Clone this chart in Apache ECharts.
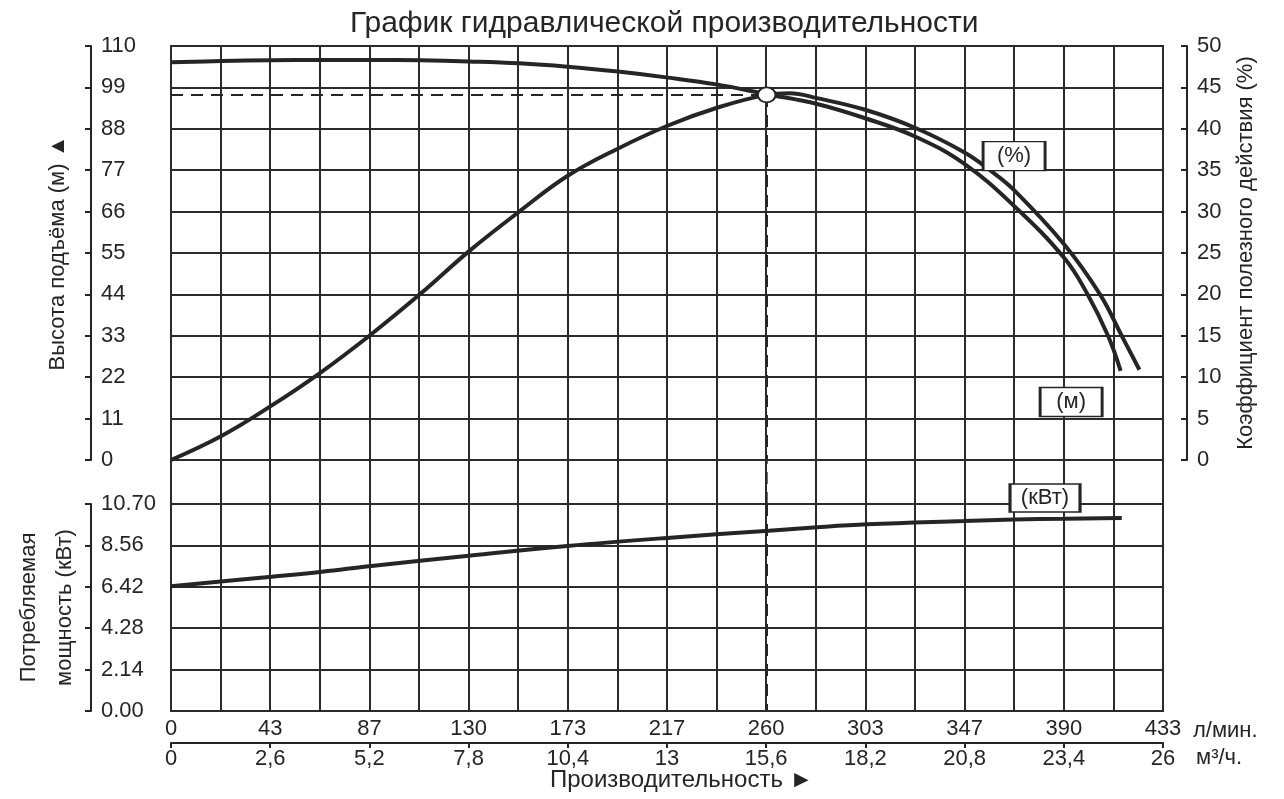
<!DOCTYPE html>
<html>
<head>
<meta charset="utf-8">
<title>График гидравлической производительности</title>
<script src="https://cdn.jsdelivr.net/npm/echarts@6/dist/echarts.min.js"></script>
<style>
html, body { margin: 0; padding: 0; background: #fff; }
#chart { width: 1284px; height: 799px; }
</style>
</head>
<body>
<div id="chart"></div>
<script>
// подписи оси X (л/мин и м3/ч)
var lpmLabels = ['0', '43', '87', '130', '173', '217', '260', '303', '347', '390', '433'];
var m3hLabels = ['0', '2,6', '5,2', '7,8', '10,4', '13', '15,6', '18,2', '20,8', '23,4', '26'];

// напор (м)
var headFlow = [0, 22, 44, 65, 87, 109, 130, 152, 173, 195, 217, 238, 260, 282, 303, 325, 346, 368, 390, 400, 409, 414.5];
var headVal = [105.7, 106.0, 106.2, 106.3, 106.3, 106.2, 105.9, 105.4, 104.5, 103.2, 101.6, 99.8, 97.2, 94.6, 90.8, 85.9, 78.8, 67.5, 53.6, 44.1, 33.0, 23.7];

// КПД (%)
var effFlow = [0, 22, 43.5, 65, 87, 109, 130, 152, 173, 195, 217, 239, 260, 270, 282, 303, 325, 346, 357.5, 368, 390, 405.5, 415, 422.7];
var effVal = [0, 2.9, 6.5, 10.5, 15.1, 20.1, 25.2, 30.0, 34.3, 37.6, 40.4, 42.6, 44.1, 44.3, 43.7, 42.3, 40.1, 37.2, 35.0, 32.6, 26.0, 20.0, 15.0, 10.9];

// потребляемая мощность (кВт)
var powerFlow = [0, 44, 66, 87.5, 130, 173, 218, 261, 282, 304, 346, 368, 390, 415];
var powerVal = [6.45, 6.94, 7.20, 7.50, 8.03, 8.53, 8.96, 9.32, 9.50, 9.65, 9.82, 9.90, 9.94, 9.98];

// рабочая точка
var dutyFlow = 260;
var dutyHead = 97.0;
var dutyEff = 44.1;

function zip(xs, ys) {
	return xs.map(function (x, i) { return [x, ys[i]]; });
}

var ink = '#252525';
var font = 'Liberation Sans, Arial, Helvetica, sans-serif';
var gridLine = { show: true, lineStyle: { color: '#2b2b2b', width: 2 } };

function flowAxis(gridIndex) {
	return {
		type: 'value', gridIndex: gridIndex, min: 0, max: 433, interval: 43.3,
		axisLine: { show: false, onZero: false }, axisTick: { show: false }, axisLabel: { show: false },
		splitLine: gridLine,
		minorTick: { show: false, splitNumber: 2 },
		minorSplitLine: gridLine
	};
}

var lowerAxisLpm = flowAxis(2);
lowerAxisLpm.position = 'bottom';
lowerAxisLpm.offset = 32;
lowerAxisLpm.axisLine = { show: true, onZero: false, lineStyle: { color: ink, width: 2 } };
lowerAxisLpm.axisTick = { show: true, length: 5, lineStyle: { color: ink, width: 2 } };
lowerAxisLpm.axisLabel = {
	show: true, inside: true, margin: 3, fontSize: 22, color: ink, fontFamily: font,
	formatter: function (v) { return lpmLabels[Math.round(v / 43.3)]; }
};
lowerAxisLpm.name = 'л/мин.';
lowerAxisLpm.nameLocation = 'end';
lowerAxisLpm.nameGap = 30;
lowerAxisLpm.nameTextStyle = { fontSize: 22, color: ink, fontFamily: font, verticalAlign: 'bottom', padding: [0, 0, 1, 0] };

var lowerAxisM3h = {
	type: 'value', gridIndex: 2, min: 0, max: 433, interval: 43.3,
	position: 'bottom', offset: 32,
	axisLine: { show: false, onZero: false }, axisTick: { show: false }, splitLine: { show: false },
	axisLabel: {
		show: true, margin: 5, fontSize: 22, color: ink, fontFamily: font,
		formatter: function (v) { return m3hLabels[Math.round(v / 43.3)]; }
	},
	name: 'м³/ч.', nameLocation: 'end', nameGap: 33,
	nameTextStyle: { fontSize: 22, color: ink, fontFamily: font, verticalAlign: 'top', padding: [4, 0, 0, 0] }
};

var myChart = echarts.init(document.getElementById('chart'));

var option = {
	backgroundColor: '#fff',
	animation: false,
	title: [{
		text: 'График гидравлической производительности',
		left: 345, top: 4,
		textStyle: { fontSize: 30, fontWeight: 'normal', color: ink, fontFamily: font }
	}, {
		text: 'Производительность ►',
		left: 545, top: 763,
		textStyle: { fontSize: 24, fontWeight: 'normal', color: ink, fontFamily: font }
	}],
	grid: [
		{ left: 171, right: 121, top: 46, height: 414, show: true, borderColor: '#2b2b2b', borderWidth: 2, outerBoundsMode: 'none' },
		{ left: 171, right: 121, top: 460, height: 44, outerBoundsMode: 'none' },
		{ left: 171, right: 121, top: 504, height: 207, show: true, borderColor: '#2b2b2b', borderWidth: 2, outerBoundsMode: 'none' }
	],
	xAxis: [flowAxis(0), flowAxis(1), lowerAxisLpm, lowerAxisM3h],
	yAxis: [{
		type: 'value', gridIndex: 0, position: 'left', offset: 80,
		min: 0, max: 110, interval: 11,
		axisLine: { show: true, onZero: false, lineStyle: { color: ink, width: 2 } },
		axisTick: { show: true, length: 6, lineStyle: { color: ink, width: 2 } },
		axisLabel: { inside: true, margin: 10, fontSize: 22, color: ink, fontFamily: font },
		splitLine: gridLine,
		name: 'Высота подъёма (м) ▲', nameLocation: 'middle', nameGap: 22, nameRotate: 90,
		nameTextStyle: { fontSize: 22, color: ink, fontFamily: font }
	}, {
		type: 'value', gridIndex: 0, position: 'right', offset: 24,
		min: 0, max: 50, interval: 5,
		axisLine: { show: true, onZero: false, lineStyle: { color: ink, width: 2 } },
		axisTick: { show: true, inside: true, length: 6, lineStyle: { color: ink, width: 2 } },
		axisLabel: { margin: 10, fontSize: 22, color: ink, fontFamily: font },
		splitLine: { show: false },
		name: 'Коэффициент полезного действия (%)', nameLocation: 'middle', nameGap: 48, nameRotate: 90,
		nameTextStyle: { fontSize: 22, color: ink, fontFamily: font }
	}, {
		type: 'value', gridIndex: 1, min: 0, max: 1, show: false
	}, {
		type: 'value', gridIndex: 2, position: 'left', offset: 80,
		min: 0, max: 10.7, interval: 2.14,
		axisLine: { show: true, onZero: false, lineStyle: { color: ink, width: 2 } },
		axisTick: { show: true, length: 6, lineStyle: { color: ink, width: 2 } },
		axisLabel: {
			inside: true, margin: 10, fontSize: 22, color: ink, fontFamily: font,
			formatter: function (v) { return v.toFixed(2); }
		},
		splitLine: gridLine,
		name: 'Потребляемая\nмощность (кВт)', nameLocation: 'middle', nameGap: -3, nameRotate: 90,
		nameTextStyle: { fontSize: 22, lineHeight: 36, color: ink, fontFamily: font }
	}],
	series: [{
		name: 'Напор',
		type: 'line', xAxisIndex: 0, yAxisIndex: 0,
		data: zip(headFlow, headVal),
		smooth: 0.4, showSymbol: false, symbol: 'none',
		lineStyle: { color: ink, width: 4 },
		markLine: {
			silent: true, symbol: ['none', 'none'], label: { show: false },
			lineStyle: { color: ink, width: 2, type: [12, 8] },
			data: [
				[{ coord: [0, dutyHead] }, { coord: [dutyFlow, dutyHead] }],
				[{ coord: [dutyFlow, dutyHead] }, { coord: [dutyFlow, 0] }]
			]
		},
		markPoint: {
			silent: true,
			data: [{
				coord: [392.9, 15.4], symbol: 'rect', symbolSize: [62, 29],
				itemStyle: { color: '#fff', borderColor: ink, borderWidth: 2 },
				label: { show: true, position: 'inside', formatter: '(м)', fontSize: 22, color: ink, fontFamily: font }
			}]
		}
	}, {
		name: 'КПД',
		type: 'line', xAxisIndex: 0, yAxisIndex: 1,
		data: zip(effFlow, effVal),
		smooth: 0.4, showSymbol: false, symbol: 'none',
		lineStyle: { color: ink, width: 4 },
		markPoint: {
			silent: true,
			data: [{
				coord: [368, 36.7], symbol: 'rect', symbolSize: [62, 29],
				itemStyle: { color: '#fff', borderColor: ink, borderWidth: 2 },
				label: { show: true, position: 'inside', formatter: '(%)', fontSize: 22, color: ink, fontFamily: font }
			}, {
				coord: [dutyFlow, dutyEff], symbol: 'circle', symbolSize: [18, 15],
				itemStyle: { color: '#fff', borderColor: ink, borderWidth: 2 },
				label: { show: false }
			}]
		}
	}, {
		name: 'gap',
		type: 'line', xAxisIndex: 1, yAxisIndex: 2,
		data: [[dutyFlow, 0], [dutyFlow, 1]],
		showSymbol: false, symbol: 'none', silent: true,
		lineStyle: { color: ink, width: 2, type: [12, 8] }
	}, {
		name: 'Мощность',
		type: 'line', xAxisIndex: 2, yAxisIndex: 3,
		data: zip(powerFlow, powerVal),
		smooth: 0.4, showSymbol: false, symbol: 'none',
		lineStyle: { color: ink, width: 4 },
		markLine: {
			silent: true, symbol: ['none', 'none'], label: { show: false },
			lineStyle: { color: ink, width: 2, type: [12, 8] },
			data: [[{ coord: [dutyFlow, 10.7] }, { coord: [dutyFlow, 0] }]]
		},
		markPoint: {
			silent: true,
			data: [{
				coord: [381.5, 10.7], symbol: 'rect', symbolSize: [70, 28], symbolOffset: [0, -6],
				itemStyle: { color: '#fff', borderColor: ink, borderWidth: 2 },
				label: { show: true, position: 'inside', formatter: '(кВт)', fontSize: 22, color: ink, fontFamily: font }
			}]
		}
	}]
};

option && myChart.setOption(option);
</script>
</body>
</html>
